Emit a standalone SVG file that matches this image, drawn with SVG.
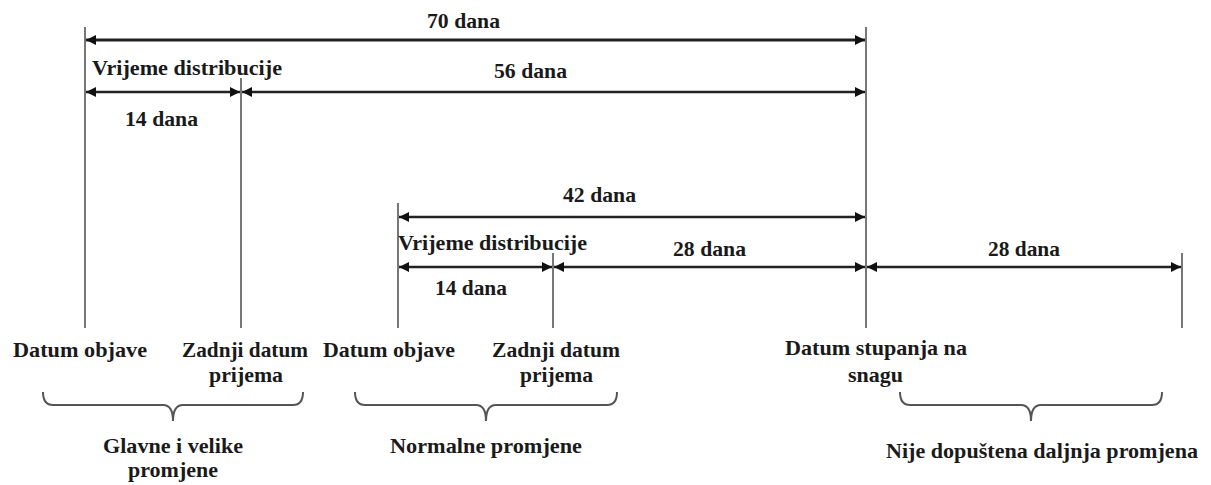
<svg xmlns="http://www.w3.org/2000/svg" width="1211" height="485" viewBox="0 0 1211 485">
<style>
text{font-family:"Liberation Serif","Times New Roman",serif;font-weight:bold;font-size:22px;fill:#1a1a1a}
.v{stroke:#555;stroke-width:1.6;fill:none}
.a{stroke:#222;stroke-width:2.4;fill:none;marker-start:url(#ah);marker-end:url(#ah)}
.b{stroke:#555;stroke-width:2;fill:none}
</style>
<defs>
<marker id="ah" viewBox="0 0 10 10" refX="10" refY="5" markerWidth="12" markerHeight="10" markerUnits="userSpaceOnUse" orient="auto-start-reverse">
<path d="M0,0 L10,5 L0,10 Z" fill="#111"/>
</marker>
</defs>
<g id="connectors">
<line class="v" x1="85" y1="27" x2="85" y2="328"/>
<line class="v" x1="241" y1="78" x2="241" y2="328"/>
<line class="v" x1="866" y1="27" x2="866" y2="328"/>
<line class="v" x1="398" y1="203" x2="398" y2="328"/>
<line class="v" x1="553" y1="253" x2="553" y2="328"/>
<line class="v" x1="1182" y1="253" x2="1182" y2="328"/>
<line class="a" x1="86" y1="40" x2="865" y2="40" style="stroke-width:3"/>
<line class="a" x1="86" y1="92" x2="240" y2="92"/>
<line class="a" x1="242" y1="92" x2="865" y2="92"/>
<line class="a" x1="399" y1="217" x2="865" y2="217"/>
<line class="a" x1="399" y1="267" x2="552" y2="267"/>
<line class="a" x1="554" y1="267" x2="865" y2="267"/>
<line class="a" x1="867" y1="267" x2="1181" y2="267"/>
</g>
<g id="labels-top">
<text x="427" y="28" textLength="73" lengthAdjust="spacingAndGlyphs">70 dana</text>
<text x="92" y="75" textLength="190" lengthAdjust="spacingAndGlyphs">Vrijeme distribucije</text>
<text x="494" y="78" textLength="73" lengthAdjust="spacingAndGlyphs">56 dana</text>
<text x="125" y="126" textLength="73" lengthAdjust="spacingAndGlyphs">14 dana</text>
<text x="563" y="202" textLength="73" lengthAdjust="spacingAndGlyphs">42 dana</text>
<text x="398" y="250" textLength="189" lengthAdjust="spacingAndGlyphs">Vrijeme distribucije</text>
<text x="673" y="256" textLength="73" lengthAdjust="spacingAndGlyphs">28 dana</text>
<text x="988" y="256" textLength="72" lengthAdjust="spacingAndGlyphs">28 dana</text>
<text x="435" y="295" textLength="72" lengthAdjust="spacingAndGlyphs">14 dana</text>
</g>
<g id="group-1">
<text x="13" y="357" textLength="134" lengthAdjust="spacingAndGlyphs">Datum objave</text>
<text x="182" y="357" textLength="126" lengthAdjust="spacingAndGlyphs">Zadnji datum</text>
<text x="209" y="382" textLength="74" lengthAdjust="spacingAndGlyphs">prijema</text>
<path class="b" d="M43,392 Q43,405 53,405 L163,405 Q173,405 173,421 Q173,405 183,405 L293,405 Q303,405 303,392"/>
<text x="103" y="453" textLength="140" lengthAdjust="spacingAndGlyphs">Glavne i velike</text>
<text x="173" y="477" text-anchor="middle">promjene</text>
</g>
<g id="group-2">
<text x="323" y="357" textLength="132" lengthAdjust="spacingAndGlyphs">Datum objave</text>
<text x="492" y="357" textLength="128" lengthAdjust="spacingAndGlyphs">Zadnji datum</text>
<text x="520" y="382" textLength="73" lengthAdjust="spacingAndGlyphs">prijema</text>
<path class="b" d="M355,392 Q355,405 365,405 L476,405 Q486,405 486,421 Q486,405 496,405 L607,405 Q617,405 617,392"/>
<text x="390" y="453" textLength="192" lengthAdjust="spacingAndGlyphs">Normalne promjene</text>
</g>
<g id="group-3">
<text x="785" y="355" textLength="182" lengthAdjust="spacingAndGlyphs">Datum stupanja na</text>
<text x="848" y="382" textLength="55" lengthAdjust="spacingAndGlyphs">snagu</text>
<path class="b" d="M900,392 Q900,405 910,405 L1021,405 Q1031,405 1031,421 Q1031,405 1041,405 L1152,405 Q1162,405 1162,392"/>
<text x="886" y="458" textLength="312" lengthAdjust="spacingAndGlyphs">Nije dopuštena daljnja promjena</text>
</g>
</svg>
